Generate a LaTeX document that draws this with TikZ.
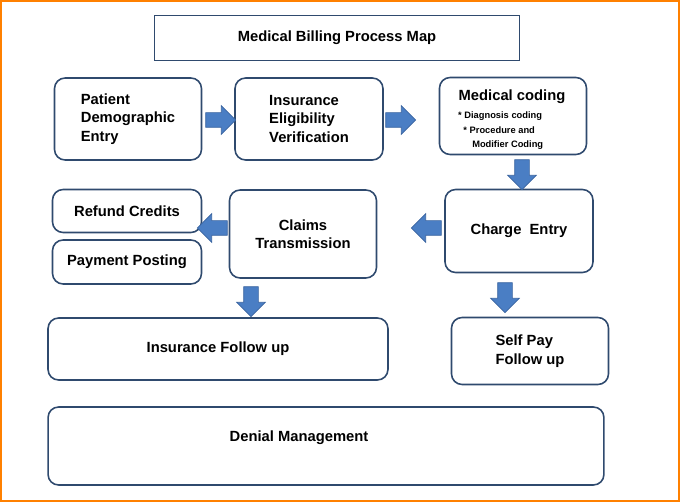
\documentclass[tikz,border=0pt]{standalone}
\usepackage{fontspec}
\setmainfont{Liberation Sans}
\usetikzlibrary{shapes.arrows, positioning, calc}
\definecolor{boxline}{HTML}{2F4A6E}
\definecolor{arrowfill}{HTML}{4A7EC4}
\definecolor{arrowline}{HTML}{3A64A0}
\tikzset{
    stepbox/.style={draw=boxline, line width=0.9pt, rounded corners=6pt, font=\bfseries\fontsize{8.4}{10.5}\selectfont, align=left},
    titlebox/.style={draw=boxline, line width=0.9pt, font=\bfseries\fontsize{8.4}{10.5}\selectfont},
    flow/.style={single arrow, draw=arrowline, fill=arrowfill, minimum height=0.6cm, minimum width=0.56cm, single arrow head extend=0.14cm, inner sep=0.14cm}
}
\begin{document}
\begin{tikzpicture}[x=0.02cm, y=-0.02cm]
    \useasboundingbox (0,0) rectangle (680,502);
    \draw[orange, line width=1pt] (1,1) rectangle (679,501);
    % boxes
    \node[titlebox, minimum width=7.3cm, minimum height=0.9cm] (title) at (337,38) {Medical Billing Process Map};
    \node[stepbox, minimum width=2.94cm, minimum height=1.64cm] (patient) at (128,119) {Patient\\Demographic\\Entry\hspace*{8pt}};
    \node[stepbox, minimum width=2.96cm, minimum height=1.64cm] (elig) at (309,119) {Insurance\\Eligibility\\Verification};
    \node[stepbox, minimum width=2.94cm, minimum height=1.54cm] (coding) at (513,116) {};
    \node[font=\bfseries\fontsize{8.4}{10.5}\selectfont] (codingtitle) at (512,97) {Medical coding};
    \node[font=\bfseries\fontsize{5.3}{7}\selectfont, align=left, anchor=north west] (codinglist) at (452,106) {* Diagnosis coding\\[1pt]\hspace*{3pt}* Procedure and\\[1pt]\hspace*{8pt}Modifier Coding};
    \node[stepbox, minimum width=2.96cm, minimum height=1.66cm, align=center] (charge) at (519,231) {Charge\ \ Entry};
    \node[stepbox, minimum width=2.94cm, minimum height=1.76cm, align=center] (claims) at (303,234) {Claims\\Transmission};
    \node[stepbox, minimum width=2.98cm, minimum height=0.86cm] (refund) at (127,211) {Refund Credits};
    \node[stepbox, minimum width=2.98cm, minimum height=0.88cm] (posting) at (127,262) {Payment Posting};
    \node[stepbox, minimum width=6.8cm, minimum height=1.24cm] (followup) at (218,349) {Insurance Follow up};
    \node[stepbox, minimum width=3.14cm, minimum height=1.34cm] (selfpay) at (530,351) {Self Pay\\Follow up};
    \node[stepbox, minimum width=11.12cm, minimum height=1.56cm] (denial) at (326,446) {};
    \node[font=\bfseries\fontsize{8.4}{10.5}\selectfont] (denialtext) at (299,438) {Denial Management};
    % block arrows
    \node[flow] (a1) at (217,120) {};
    \node[flow] (a2) at (397,120) {};
    \node[flow, rotate=-90] (a3) at (522,171) {};
    \node[flow, rotate=180] (a4) at (430,228) {};
    \node[flow, rotate=180] (a5) at (216,228) {};
    \node[flow, rotate=-90] (a6) at (251,298) {};
    \node[flow, rotate=-90] (a7) at (505,294) {};
\end{tikzpicture}
\end{document}
